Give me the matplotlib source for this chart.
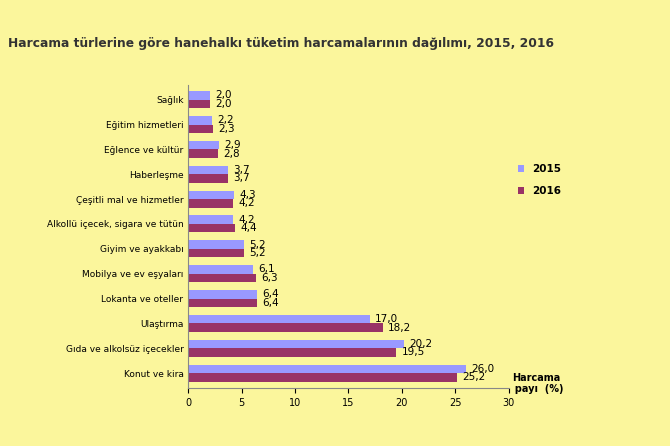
import numpy as np
import matplotlib.pyplot as plt

categories = ["Sağlık", "Eğitim hizmetleri", "Eğlence ve kültür", "Haberleşme",
              "Çeşitli mal ve hizmetler", "Alkollü içecek, sigara ve tütün",
              "Giyim ve ayakkabı", "Mobilya ve ev eşyaları", "Lokanta ve oteller",
              "Ulaştırma", "Gıda ve alkolsüz içecekler", "Konut ve kira"]
v2015 = [2.0, 2.2, 2.9, 3.7, 4.3, 4.2, 5.2, 6.1, 6.4, 17.0, 20.2, 26.0]
v2016 = [2.0, 2.3, 2.8, 3.7, 4.2, 4.4, 5.2, 6.3, 6.4, 18.2, 19.5, 25.2]

bg = "#FBF69C"
fig = plt.figure(figsize=(6.7, 4.46), dpi=100, facecolor=bg)
ax = fig.add_axes([0.281, 0.13, 0.478, 0.68], facecolor=bg)

y = np.arange(len(categories))[::-1]
h = 0.34
b1 = ax.barh(y + h / 2, v2015, h, color="#9999FF", label="2015")
b2 = ax.barh(y - h / 2, v2016, h, color="#993366", label="2016")
for bars, vals in ((b1, v2015), (b2, v2016)):
    for r, v in zip(bars, vals):
        ax.text(v + 0.5, r.get_y() + r.get_height() / 2, f"{v:.1f}".replace(".", ","),
                va="center", ha="left", fontsize=7.5)

ax.set_yticks(y)
ax.set_yticklabels(categories, fontsize=6.5)
ax.set_xlim(0, 30)
ax.set_xticks(range(0, 31, 5))
ax.tick_params(axis="x", labelsize=7)
ax.tick_params(axis="y", length=0)
ax.set_ylim(-0.6, len(categories) - 0.4)
for s in ["top", "right"]:
    ax.spines[s].set_visible(False)
ax.spines["left"].set_color("#888888")
ax.spines["bottom"].set_color("#888888")

ax.legend(loc="upper left", bbox_to_anchor=(1.0, 0.77), frameon=False,
          handlelength=0.6, handleheight=0.6, labelspacing=1.2,
          prop={"weight": "bold", "size": 7.5})
fig.text(0.8, 0.12, "Harcama\n  payı  (%)", fontsize=7, fontweight="bold", ha="center")
fig.text(0.012, 0.895, "Harcama türlerine göre hanehalkı tüketim harcamalarının dağılımı, 2015, 2016",
         fontsize=8.8, fontweight="bold", color="#333333")

fig.savefig("out.png", dpi=100, facecolor=bg)
